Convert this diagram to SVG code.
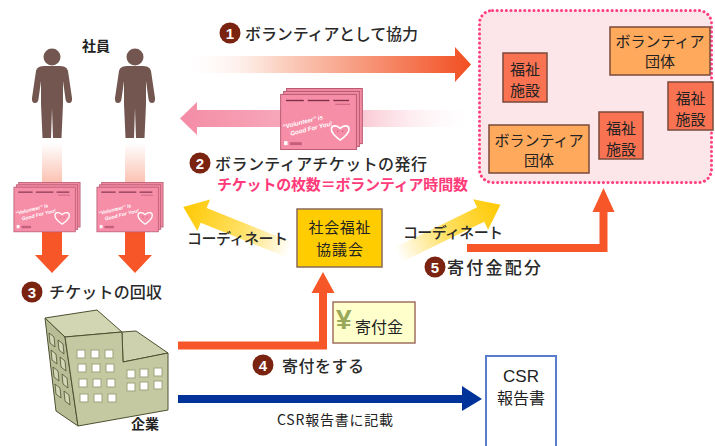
<svg xmlns="http://www.w3.org/2000/svg" width="715" height="446" viewBox="0 0 715 446">
<defs>
<style>
  text{font-family:"Noto Sans CJK JP","Noto Sans",sans-serif;}
  .lbl{font-size:16px;fill:#2a2a2a;font-weight:500;}
  .red{font-size:15px;font-weight:bold;fill:#ff3b7a;}
  .small{font-size:14px;fill:#222;}
  .b{font-weight:bold;}
  .num{font-family:"Liberation Sans",Arial,sans-serif;font-weight:bold;font-size:15px;fill:#fff;text-anchor:middle;}
  .badge{fill:#7a2310;}
  .fac{fill:#f97352;stroke:#7a4a3a;stroke-width:1.5;}
  .grp{fill:#ffa95c;stroke:#7a4a3a;stroke-width:1.5;}
  .box{font-size:15px;fill:#222;text-anchor:middle;}
  .person{fill:#735650;}
  .orange{fill:#f75628;}
  .oline{fill:none;stroke:#f75628;stroke-width:8;}
  .win{fill:#fff;stroke:#9da37a;stroke-width:1;}
  .swin{fill:#d3d7b5;stroke:#4d5030;stroke-width:.8;}
  .tk{font-family:"Liberation Sans",Arial,sans-serif;font-style:italic;font-weight:bold;font-size:6.3px;fill:#fff;}
</style>
<linearGradient id="g1" gradientUnits="userSpaceOnUse" x1="180" y1="0" x2="470" y2="0">
  <stop offset="0" stop-color="#ffffff" stop-opacity="0"/>
  <stop offset="0.35" stop-color="#fbd0c0"/>
  <stop offset="1" stop-color="#f24f22"/>
</linearGradient>
<linearGradient id="g2" gradientUnits="userSpaceOnUse" x1="180" y1="0" x2="480" y2="0">
  <stop offset="0" stop-color="#f48ca5"/>
  <stop offset="0.55" stop-color="#f9b8c7"/>
  <stop offset="1" stop-color="#ffffff" stop-opacity="0"/>
</linearGradient>
<linearGradient id="gv" gradientUnits="userSpaceOnUse" x1="0" y1="143" x2="0" y2="184">
  <stop offset="0" stop-color="#fbc0b0" stop-opacity="0"/>
  <stop offset="1" stop-color="#fbbfae"/>
</linearGradient>
<linearGradient id="gy" x1="0" y1="0" x2="1" y2="0">
  <stop offset="0" stop-color="#ffcc00" stop-opacity="0"/>
  <stop offset="0.45" stop-color="#ffcc00" stop-opacity="0.6"/>
  <stop offset="1" stop-color="#ffc800"/>
</linearGradient>
<!-- stacked volunteer ticket -->
<symbol id="ticket" viewBox="0 0 84 64">
  <rect x="6.5" y="0.5" width="77" height="56" fill="#f28aa2" stroke="#b85a72"/>
  <rect x="3.5" y="3.5" width="77" height="56" fill="#f28aa2" stroke="#b85a72"/>
  <rect x="0.5" y="6.5" width="77" height="56" fill="#f78ea8" stroke="#b85a72"/>
  <g fill="#7d3048">
    <rect x="6" y="12" width="18" height="1.4"/>
    <rect x="28" y="12" width="22" height="1.4"/>
    <rect x="54" y="12" width="16" height="1.4"/>
  </g>
  <rect x="56" y="16" width="15" height="1" fill="#c4607c"/>
  <g transform="rotate(-14 30 38)">
    <text class="tk" x="3" y="35">“Volunteer” is</text>
    <text class="tk" x="9" y="43.5">Good For You!</text>
  </g>
  <path d="M61,53 C54,48 52,45 52,42 C52,38 57,37 61,41 C65,37 70,38 70,42 C70,45 68,48 61,53 Z" fill="none" stroke="#fff" stroke-width="1.6"/>
  <circle cx="58.5" cy="44" r="0.8" fill="#c4607c"/>
  <circle cx="63.5" cy="44" r="0.8" fill="#c4607c"/>
  <rect x="4" y="54" width="3.5" height="4" fill="#fff"/>
  <rect x="10" y="55" width="12" height="3" fill="#c4607c"/>
</symbol>
<!-- standing person silhouette, centred on x=0 -->
<symbol id="person" overflow="visible">
  <circle cx="0" cy="57" r="8.5"/>
  <path d="M-6,66 L6,66 C12,66 15,67 16,71 L20,98 Q20.5,103 17,103 Q14,103 13.5,99 L11,81 L11,104 L9.5,138 L1,138 L0,108 L-1,138 L-9.5,138 L-11,104 L-11,81 L-13.5,99 Q-14,103 -17,103 Q-20.5,103 -20,98 L-16,71 C-15,67 -12,66 -6,66 Z"/>
</symbol>
</defs>

<rect width="715" height="446" fill="#fff"/>

<!-- connectors -->
<g id="connectors">
  <!-- 1: volunteering -->
  <polygon points="180,56 455,56 455,47 471,64.5 455,82 455,73 180,73" fill="url(#g1)"/>
  <!-- 2: tickets issued -->
  <polygon points="480,110 197,110 197,102 180,118.5 197,135 197,127 480,127" fill="url(#g2)"/>
  <!-- faint bars under employees -->
  <rect x="42" y="143" width="20" height="41" fill="url(#gv)"/>
  <rect x="125" y="143" width="20" height="41" fill="url(#gv)"/>
  <!-- 3: tickets collected -->
  <rect class="orange" x="42" y="232" width="20" height="24"/>
  <polygon class="orange" points="35,255 69,255 52,273"/>
  <rect class="orange" x="125" y="232" width="20" height="24"/>
  <polygon class="orange" points="118,255 152,255 135,273"/>
  <!-- coordinate arrows -->
  <g transform="translate(290,250) rotate(201.9)">
    <polygon points="0,-8 93,-8 93,-17 115,0 93,17 93,8 0,8" fill="url(#gy)"/>
  </g>
  <g transform="translate(398,255) rotate(-26.1)">
    <polygon points="0,-8 92,-8 92,-17 114,0 92,17 92,8 0,8" fill="url(#gy)"/>
  </g>
  <!-- 4: donation -->
  <path class="oline" d="M178,345.5 H323 V292"/>
  <polygon class="orange" points="311.5,293 323,272 334.5,293"/>
  <!-- 5: distribution -->
  <path class="oline" d="M467,248 H603.5 V211"/>
  <polygon class="orange" points="592.5,212 603.5,188 614.5,212"/>
  <!-- CSR report -->
  <rect x="178" y="395" width="285" height="8" fill="#003399"/>
  <polygon points="462,386 482,399 462,411" fill="#003399"/>
</g>

<!-- employees -->
<g id="employees">
  <use href="#person" x="52" y="0" class="person"/>
  <use href="#person" x="135" y="0" class="person"/>
  <text class="small b" x="96" y="51" text-anchor="middle">社員</text>
</g>

<!-- tickets -->
<g id="tickets">
  <use href="#ticket" x="280" y="88" width="83" height="63"/>
  <use href="#ticket" x="13" y="182" width="68" height="51"/>
  <use href="#ticket" x="96" y="182" width="68" height="51"/>
</g>

<!-- facilities and groups -->
<g id="facilities">
  <rect x="479.5" y="10.5" width="232" height="172" rx="13" fill="#fde6ea" stroke="#ff3f7f" stroke-width="3" stroke-dasharray="0.1 4.5" stroke-linecap="round"/>
  <g id="fac1"><rect class="fac" x="503" y="53" width="44" height="49"/>
    <text class="box" x="525" y="75">福祉</text><text class="box" x="525" y="96">施設</text></g>
  <g id="grp1"><rect class="grp" x="610" y="27" width="100" height="48"/>
    <text class="box" x="660" y="47">ボランティア</text><text class="box" x="660" y="67">団体</text></g>
  <g id="fac2"><rect class="fac" x="668" y="82" width="45" height="48"/>
    <text class="box" x="690.5" y="104">福祉</text><text class="box" x="690.5" y="125">施設</text></g>
  <g id="fac3"><rect class="fac" x="599" y="112" width="44" height="47"/>
    <text class="box" x="621" y="134">福祉</text><text class="box" x="621" y="155">施設</text></g>
  <g id="grp2"><rect class="grp" x="489" y="125" width="100" height="48"/>
    <text class="box" x="539" y="146">ボランティア</text><text class="box" x="539" y="166">団体</text></g>
</g>

<!-- council -->
<g id="council">
  <rect x="297" y="209" width="85" height="58" fill="#ffcc00" stroke="#8a6a5a" stroke-width="1.5"/>
  <text class="box" x="339.5" y="233" textLength="62">社会福祉</text>
  <text class="box" x="339.5" y="255" textLength="47">協議会</text>
</g>

<!-- donation note -->
<g id="donation">
  <rect x="333" y="302" width="82" height="41" fill="#ffffcc" stroke="#a07060" stroke-width="1.5"/>
  <text x="336" y="329" style="font-family:'Liberation Sans',Arial,sans-serif;font-size:28px;font-weight:bold;fill:#9aa85a">¥</text>
  <text x="355" y="333" style="font-size:16px;fill:#222">寄付金</text>
</g>

<!-- company building -->
<g id="company">
  <polygon points="45,318 65,337 78,426 56,411" fill="#b9bd96" stroke="#4d5030" stroke-width="1"/>
  <polygon points="45,318 97,310 122,332 65,337" fill="#d2d6b3" stroke="#4d5030" stroke-width="1"/>
  <polygon points="122,332 136,331 168,353 123,362" fill="#cdd1ad" stroke="#4d5030" stroke-width="1"/>
  <polygon points="65,337 122,332 123,362 168,353 168,410 78,426" fill="#c5c9a2" stroke="#4d5030" stroke-width="1"/>
  <g class="swin">
    <polygon points="49,333 54,337 55,347 50,343"/><polygon points="58,340 63,344 64,354 59,350"/>
    <polygon points="51,350 56,354 57,364 52,360"/><polygon points="60,357 65,361 66,371 61,367"/>
    <polygon points="53,367 58,371 59,381 54,377"/><polygon points="62,374 67,378 68,388 63,384"/>
    <polygon points="55,384 60,388 61,398 56,394"/><polygon points="64,391 69,395 70,405 65,401"/>
  </g>
  <g class="win">
    <rect x="77" y="350" width="8" height="8"/><rect x="91" y="350" width="8" height="8"/><rect x="105" y="350" width="8" height="8"/>
    <rect x="78" y="364" width="8" height="8"/><rect x="92" y="364" width="8" height="8"/><rect x="106" y="364" width="8" height="8"/>
    <rect x="79" y="379" width="8" height="8"/><rect x="93" y="379" width="8" height="8"/><rect x="107" y="379" width="8" height="8"/>
    <rect x="80" y="394" width="8" height="8"/><rect x="94" y="394" width="8" height="8"/><rect x="108" y="394" width="8" height="8"/>
    <rect x="127" y="370" width="8" height="8"/><rect x="140" y="369" width="8" height="8"/><rect x="154" y="368" width="8" height="8"/>
    <rect x="127" y="383" width="8" height="8"/><rect x="140" y="382" width="8" height="8"/><rect x="154" y="381" width="8" height="8"/>
  </g>
  <text class="small b" x="145" y="429" text-anchor="middle">企業</text>
</g>

<!-- CSR report -->
<g id="report">
  <path d="M486,446 V356 H556 V446" fill="#fff" stroke="#5a7ccc" stroke-width="2"/>
  <text class="box" x="521" y="382" style="font-size:17px;font-family:'Liberation Sans',Arial,sans-serif">CSR</text>
  <text class="box" x="521" y="404" style="font-size:16px">報告書</text>
</g>

<!-- step labels -->
<g id="labels">
  <circle class="badge" cx="230" cy="33" r="10.5"/><text class="num" x="230" y="38.5">1</text>
  <text class="lbl" x="245" y="40" textLength="173">ボランティアとして協力</text>

  <circle class="badge" cx="200" cy="163" r="10.5"/><text class="num" x="200" y="168.5">2</text>
  <text class="lbl" x="215" y="170" textLength="212">ボランティアチケットの発行</text>
  <text class="red" x="217" y="190" textLength="251">チケットの枚数＝ボランティア時間数</text>

  <circle class="badge" cx="32" cy="292" r="10.5"/><text class="num" x="32" y="297.5">3</text>
  <text class="lbl" x="49" y="298" textLength="113">チケットの回収</text>

  <circle class="badge" cx="263" cy="365" r="10.5"/><text class="num" x="263" y="370.5">4</text>
  <text class="lbl" x="282" y="372" textLength="82">寄付をする</text>

  <circle class="badge" cx="435" cy="267" r="10.5"/><text class="num" x="435" y="272.5">5</text>
  <text class="lbl" x="447" y="274" textLength="94" style="font-size:17px">寄付金配分</text>

  <text class="lbl" x="187" y="244" textLength="101" style="font-size:15px">コーディネート</text>
  <text class="lbl" x="403" y="238" textLength="100" style="font-size:15px">コーディネート</text>

  <text class="small" x="277" y="425" textLength="116">CSR報告書に記載</text>
</g>
</svg>
